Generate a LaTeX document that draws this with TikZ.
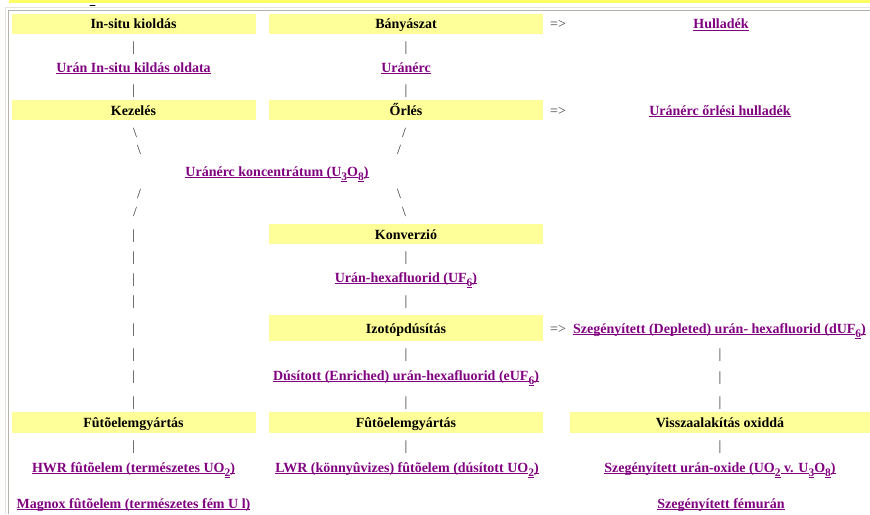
\documentclass[tikz,border=0pt]{standalone}
\usepackage{fontspec}
\setmainfont{Liberation Serif}
\definecolor{linkpurple}{HTML}{800080}
\definecolor{boxyellow}{HTML}{FFFF99}
\definecolor{topyellow}{HTML}{FFFF66}
\definecolor{framelight}{HTML}{E4E4DC}
\definecolor{framegray}{HTML}{B4B4AC}
\newcommand\lnk[1]{\setbox0=\hbox{#1}\rlap{\rule[-2pt]{\wd0}{0.9pt}}\box0}
\newcommand\subu[1]{\raisebox{-4pt}{\lnk{\fontsize{11.5}{12}\selectfont #1}}}
\begin{document}
\begin{tikzpicture}[x=1pt,y=-1pt,line cap=round,
  every node/.style={inner sep=0pt,text height=13pt,text depth=3pt,font=\fontsize{14}{16}\selectfont},
  phase/.style={fill=boxyellow,minimum height=20pt,font=\fontsize{14}{16}\selectfont\bfseries},
  prod/.style={text=linkpurple,font=\fontsize{14}{16}\selectfont\bfseries},
  bar/.style={text=black!80},
  arr/.style={text=black!75}]
\def \ca{133.5}\def \cb{406}\def \cc{720}
\def \wa{244}\def \wb{274}\def \wc{300}
\useasboundingbox (0,0) rectangle (870,514);
\fill[topyellow] (9,0) rectangle (870,3);
\draw[framelight] (5,7) -- (870,7) (5.5,7) -- (5.5,514);
\draw[framegray,line cap=butt] (8,10.5) -- (870,10.5) (8.5,10.5) -- (8.5,514);
\draw[line width=1pt] (90,5) -- (95,5);
% top rows
\node[phase,minimum width=\wa] (insitu) at (\ca,23.5) {In-situ kioldás};
\node[phase,minimum width=\wb] (banya) at (\cb,23.5) {Bányászat};
\node[arr] (arr1) at (558,23.5) {=>};
\node[prod] (hull) at (721,23.5) {\lnk{Hulladék}};
\node[prod] (oldat) at (\ca,67) {\lnk{Urán In-situ kildás oldata}};
\node[prod] (erc) at (\cb,67) {\lnk{Uránérc}};
\node[phase,minimum width=\wa] (kezel) at (\ca,110) {Kezelés};
\node[phase,minimum width=\wb] (orles) at (\cb,110) {Őrlés};
\node[arr] (arr2) at (558,110) {=>};
\node[prod] (orhull) at (720,110) {\lnk{Uránérc őrlési hulladék}};
\node[bar] (sa1) at (135,132) {\textbackslash};
\node[bar] (sa2) at (139,149) {\textbackslash};
\node[bar] (sb1) at (404,132) {/};
\node[bar] (sb2) at (399,149) {/};
\node[prod] (konc) at (277,171) {\lnk{Uránérc koncentrátum (U}\subu{3}\lnk{O}\subu{8}\lnk{)}};
\node[bar] (sa3) at (139,193) {/};
\node[bar] (sa4) at (135,211) {/};
\node[bar] (sb3) at (399,193) {\textbackslash};
\node[bar] (sb4) at (404,211) {\textbackslash};
% conversion and enrichment
\node[phase,minimum width=\wb] (konv) at (\cb,234) {Konverzió};
\node[prod] (uf) at (\cb,277) {\lnk{Urán-hexafluorid (UF}\subu{6}\lnk{)}};
\node[phase,minimum width=\wb,minimum height=26pt] (izotop) at (\cb,328) {Izotópdúsítás};
\node[arr] (arr3) at (558,328) {=>};
\node[prod,anchor=west] (duf) at (573,328) {\lnk{Szegényített (Depleted) urán- hexafluorid (dUF}\subu{6}\lnk{)}};
\node[prod] (euf) at (\cb,375) {\lnk{Dúsított (Enriched) urán-hexafluorid (eUF}\subu{6}\lnk{)}};
% fuel
\node[phase,minimum width=\wa,minimum height=21pt] (futa) at (\ca,422.5) {Fûtõelemgyártás};
\node[phase,minimum width=\wb,minimum height=21pt] (futb) at (\cb,422.5) {Fûtõelemgyártás};
\node[phase,minimum width=\wc,minimum height=21pt] (vissza) at (\cc,422.5) {Visszaalakítás oxiddá};
\node[prod] (hwr) at (\ca,467) {\lnk{HWR fûtõelem (természetes UO}\subu{2}\lnk{)}};
\node[prod] (lwr) at (407,467) {\lnk{LWR (könnyûvizes) fûtõelem (dúsított UO}\subu{2}\lnk{)}};
\node[prod] (oxid) at (\cc,467) {\lnk{Szegényített urán-oxide (UO}\subu{2}\lnk{ v. U}\subu{3}\lnk{O}\subu{8}\lnk{)}};
\node[prod] (magnox) at (\ca,503) {\lnk{Magnox fûtõelem (természetes fém U l)}};
\node[prod] (femu) at (721,503) {\lnk{Szegényített fémurán}};
% bars
\foreach \y [count=\i] in {46.5,89,234,256,278,300,328,353,375,401,445}
  \node[bar] (la\i) at (\ca,\y) {|};
\foreach \y [count=\i] in {46.5,89,256,300,353,401,445}
  \node[bar] (lb\i) at (\cb,\y) {|};
\foreach \y [count=\i] in {353,376,401,445}
  \node[bar] (lc\i) at (\cc,\y) {|};
\end{tikzpicture}
\end{document}
